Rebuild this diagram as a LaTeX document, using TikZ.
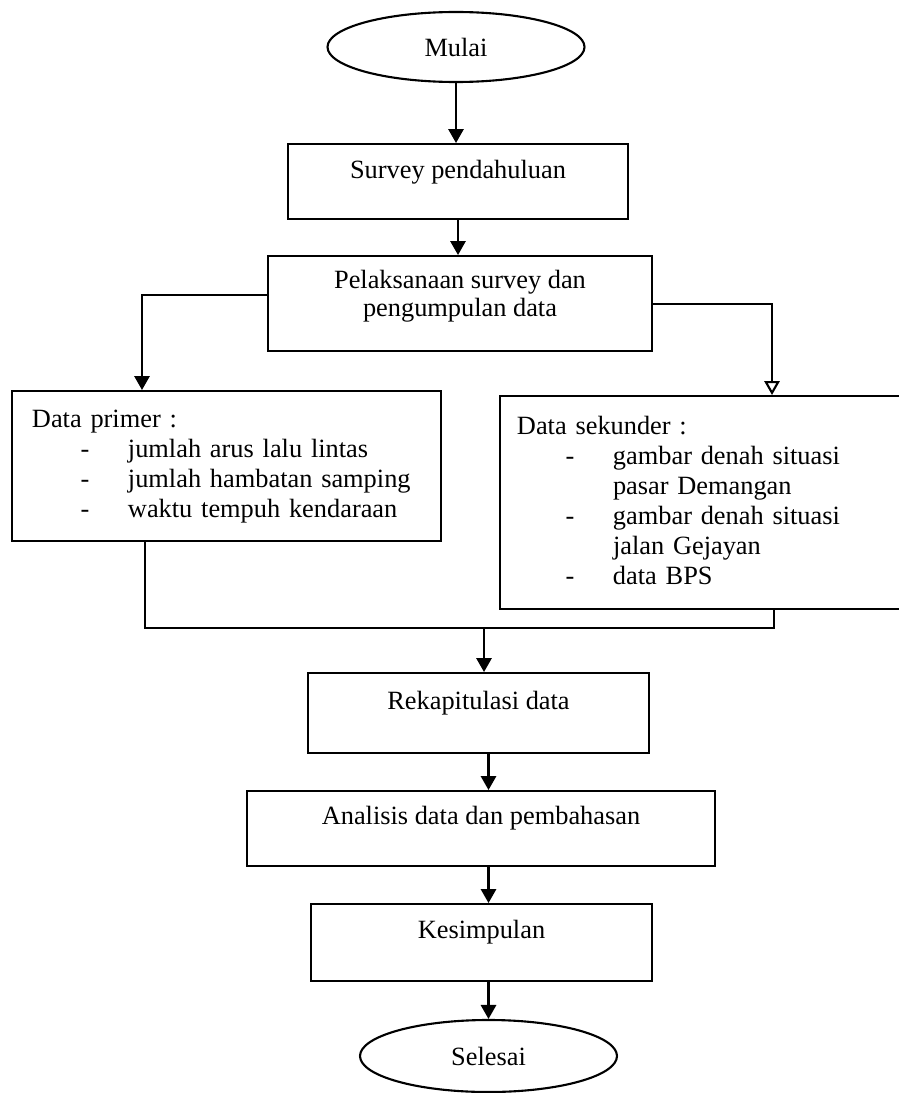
\documentclass[tikz,border=0pt]{standalone}
\usepackage{fontspec}
\setmainfont{Liberation Serif}
\usetikzlibrary{shapes, arrows.meta, positioning, calc}

\newcommand{\dashitem}[1]{\hspace*{1.46cm}\makebox[1.42cm][l]{-}#1}
\newcommand{\contitem}[1]{\hspace*{2.88cm}#1}

\begin{document}
\begin{tikzpicture}[
        x=0.03cm, y=-0.03cm,
        box/.style={rectangle, draw=black, line width=1.8pt, anchor=north, inner ysep=0pt, text height=1.02cm, align=center, font=\fontsize{22.5}{23.5}\selectfont},
        listbox/.style={box, align=left, font=\fontsize{22.5}{25.6}\selectfont},
        term/.style={ellipse, draw=black, line width=1.8pt, minimum width=7.71cm, inner sep=0pt, font=\fontsize{22.5}{27}\selectfont},
        line/.style={draw=black, line width=1.8pt, -{Triangle[length=0.42cm, width=0.46cm]}},
        openline/.style={draw=black, line width=1.8pt, -{Triangle[open, length=0.42cm, width=0.46cm]}},
        link/.style={draw=black, line width=1.8pt}
    ]
    \useasboundingbox (0,0) rectangle (899,1093);

    % Alur utama
    \node [term, minimum height=2.1cm] (mulai) at (456, 47) {Mulai};
    \node [box, minimum width=10.2cm, text depth=1.23cm] (survey) at (458, 143) {Survey pendahuluan};
    \node [box, minimum width=11.52cm, text height=1.8cm, text depth=1.05cm] (pelaksanaan) at (460, 255) {Pelaksanaan survey dan\\pengumpulan data};

    % Data primer dan sekunder
    \node [listbox, text width=11.67cm, inner xsep=0.6cm, text height=1.1cm, text depth=3.4cm] (primer) at (226.5, 390)
        {Data primer :\\\dashitem{jumlah arus lalu lintas}\\\dashitem{jumlah hambatan samping}\\\dashitem{waktu tempuh kendaraan}};
    \node [listbox, text width=11.28cm, inner xsep=0.51cm, text height=1.14cm, text depth=5.25cm] (sekunder) at (705, 395)
        {Data sekunder :\\\dashitem{gambar denah situasi}\\\contitem{pasar Demangan}\\\dashitem{gambar denah situasi}\\\contitem{jalan Gejayan}\\\dashitem{data BPS}};

    \node [box, minimum width=10.23cm, text height=1.08cm, text depth=1.32cm] (rekap) at (478.5, 672) {Rekapitulasi data};
    \node [box, minimum width=14.04cm, text height=0.99cm, text depth=1.26cm] (analisis) at (481, 790) {Analisis data dan pembahasan};
    \node [box, minimum width=10.23cm, text depth=1.29cm] (kesimpulan) at (481.5, 903) {Kesimpulan};
    \node [term, minimum height=2.16cm] (selesai) at (488.5, 1056) {Selesai};
    \coordinate (gabung) at (484, 628);

    % Penghubung
    \draw [line] (mulai.south) -- (mulai.south |- survey.north);
    \draw [line] (survey.south) -- (survey.south |- pelaksanaan.north);
    \draw [line] ([yshift=0.25cm]pelaksanaan.west) -| ([xshift=-2.535cm]primer.north);
    \draw [openline] (pelaksanaan.east) -| ([xshift=2.01cm]sekunder.north);
    \draw [link] ([xshift=-2.445cm]primer.south) |- (gabung) -| ([xshift=2.07cm]sekunder.south);
    \draw [line] (gabung) -- (gabung |- rekap.north);
    \draw [line] (selesai |- rekap.south) -- (selesai |- analisis.north);
    \draw [line] (selesai |- analisis.south) -- (selesai |- kesimpulan.north);
    \draw [line] (selesai |- kesimpulan.south) -- (selesai.north);
\end{tikzpicture}
\end{document}
